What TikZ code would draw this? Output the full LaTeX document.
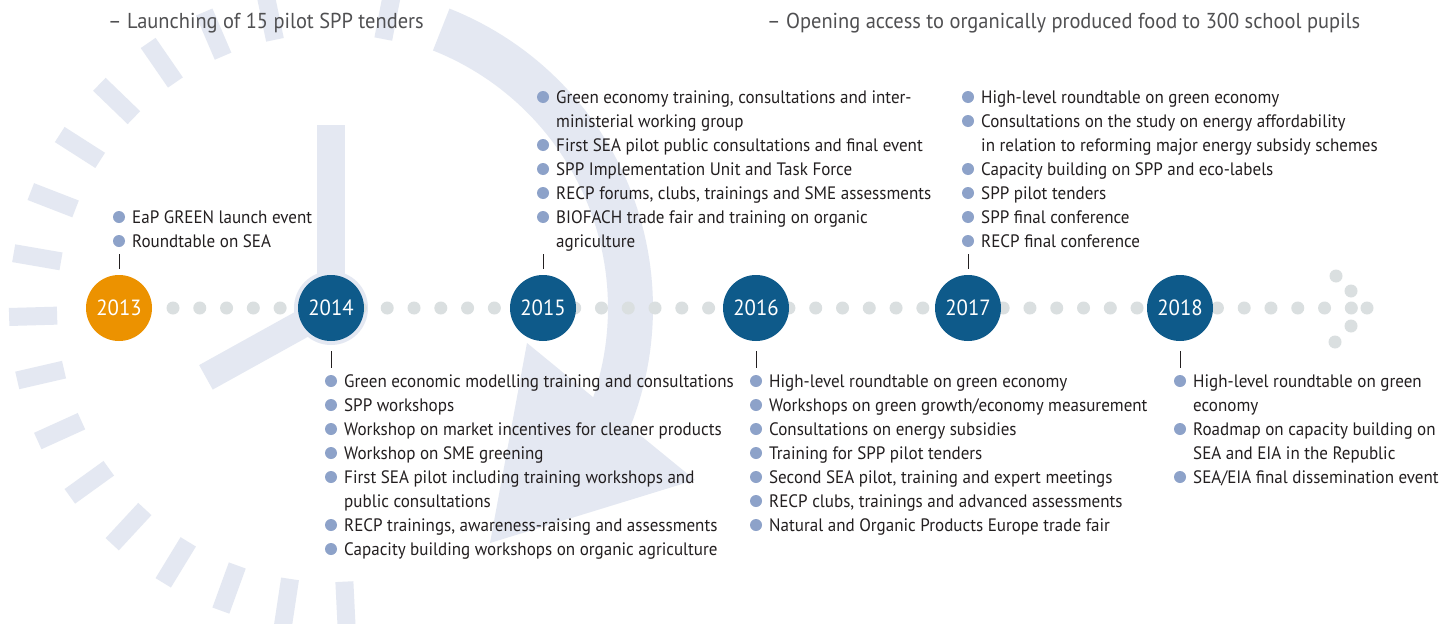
\documentclass[tikz,border=0pt]{standalone}
\usepackage{fontspec}
\setmainfont{PT Sans}[FakeStretch=0.946]
\definecolor{bgc}{RGB}{228,232,242}
\definecolor{dotc}{RGB}{218,223,224}
\definecolor{bluec}{RGB}{14,90,138}
\definecolor{orangec}{RGB}{236,146,0}
\definecolor{bulc}{RGB}{141,162,201}
\definecolor{txtc}{RGB}{35,31,32}
\definecolor{grayc}{RGB}{80,80,82}
\tikzset{
  yr/.style={circle, minimum size=66pt, inner sep=0pt, text=white, fill=bluec, font=\fontsize{22}{22}\selectfont},
  itm/.style={anchor=base west, inner sep=0pt, text=txtc, font=\fontsize{18}{18}\selectfont},
  toptxt/.style={anchor=base west, inner sep=0pt, text=grayc, font=\fontsize{21.6}{22}\selectfont},
  tk/.style={draw=txtc, line width=0.9pt}
}
\newcommand\tllist[3]{%
  \foreach \b/\t [count=\i from 0] in {#3} {
    \node[itm] (L#1-\i) at ({#1+13}, {#2+24*\i+6}) {\t};
    \ifnum\b=1 \fill[bulc] (#1, {#2+24*\i}) circle (6pt); \fi
  }}
\begin{document}
\begin{tikzpicture}[x=1pt,y=-1pt]
\useasboundingbox (0,0) rectangle (1452,624);
\fill[white] (0,0) rectangle (1452,624);
\begin{scope}
\clip (0,0) rectangle (1452,624);
\begin{scope}[shift={(331,308)}]
  \foreach \k in {0,2,3,...,17}
    \draw[bgc, line width=18pt] ({-(79+11.4*\k)}:274) -- ({-(79+11.4*\k)}:322);
  \fill[bgc] (-68.4:277) -- (-68.4:322)
    -- plot[domain=-68.4:21.7, samples=60] (\x:322)
    -- (364,172) -- (159,235) -- (196,35) -- (18.8:277)
    -- plot[domain=18.8:-68.4, samples=60] (\x:277) -- cycle;
  \fill[bgc] (-14,0) rectangle (14,-183);
  \draw[bgc, line width=28pt] (0,0) -- (151:143);
  \fill[bgc] (0,0) circle (37pt);
\end{scope}
\end{scope}
% top texts
\node[toptxt] (top1) at (108,28) {– Launching of 15 pilot SPP tenders};
\node[toptxt] (top2) at (767,28) {– Opening access to organically produced food to 300 school pupils};
% dotted line
\foreach \n in {0,...,44} \fill[dotc] ({173+26.78*\n},308) circle (6.5pt);
\foreach \p in {(1367,308),(1336,276),(1351,291),(1351,326),(1335,342)} \fill[dotc] \p circle (6.5pt);
% years
\node[yr, fill=orangec] (y13) at (119,308) {2013};
\node[yr] (y14) at (331,308) {2014};
\node[yr] (y15) at (543,308) {2015};
\node[yr] (y16) at (756,308) {2016};
\node[yr] (y17) at (968,308) {2017};
\node[yr] (y18) at (1180,308) {2018};
% ticks
\foreach \y in {y13,y15,y17} \draw[tk] ([yshift=6pt]\y.north) -- ([yshift=21pt]\y.north);
\foreach \y in {y14,y16,y18} \draw[tk] ([yshift=-10pt]\y.south) -- ([yshift=-27pt]\y.south);
% lists
\tllist{119}{217}{1/{EaP GREEN launch event}, 1/{Roundtable on SEA}}
\tllist{331}{381}{1/{Green economic modelling training and consultations},
  1/{SPP workshops},
  1/{Workshop on market incentives for cleaner products},
  1/{Workshop on SME greening},
  1/{First SEA pilot including training workshops and},
  0/{public consultations},
  1/{RECP trainings, awareness-raising and assessments},
  1/{Capacity building workshops on organic agriculture}}
\tllist{543}{97}{1/{Green economy training, consultations and inter-},
  0/{ministerial working group},
  1/{First SEA pilot public consultations and final event},
  1/{SPP Implementation Unit and Task Force},
  1/{RECP forums, clubs, trainings and SME assessments},
  1/{BIOFACH trade fair and training on organic},
  0/{agriculture}}
\tllist{756}{381}{1/{High-level roundtable on green economy},
  1/{Workshops on green growth/economy measurement},
  1/{Consultations on energy subsidies},
  1/{Training for SPP pilot tenders},
  1/{Second SEA pilot, training and expert meetings},
  1/{RECP clubs, trainings and advanced assessments},
  1/{Natural and Organic Products Europe trade fair}}
\tllist{968}{97}{1/{High-level roundtable on green economy},
  1/{Consultations on the study on energy affordability},
  0/{in relation to reforming major energy subsidy schemes},
  1/{Capacity building on SPP and eco-labels},
  1/{SPP pilot tenders},
  1/{SPP final conference},
  1/{RECP final conference}}
\tllist{1180}{381}{1/{High-level roundtable on green},
  0/{economy},
  1/{Roadmap on capacity building on},
  0/{SEA and EIA in the Republic},
  1/{SEA/EIA final dissemination event}}
\end{tikzpicture}
\end{document}
